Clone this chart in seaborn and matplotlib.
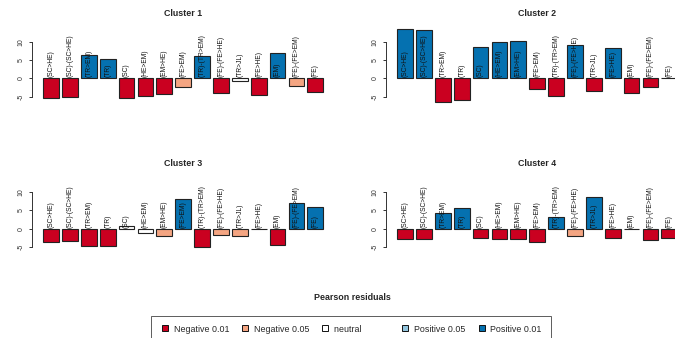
import matplotlib
matplotlib.use("Agg")
import matplotlib.pyplot as plt
from matplotlib.lines import Line2D
import seaborn as sns
import pandas as pd

labels = ["(SC>HE)", "(SC)-(SC>HE)", "(TR>EM)", "(TR)", "(SC)", "(HE>EM)", "(EM>HE)",
          "(FE>EM)", "(TR)-(TR>EM)", "(FE)-(FE>HE)", "(TR>JL)", "(FE>HE)", "(EM)",
          "(FE)-(FE>EM)", "(FE)"]

cluster1 = [-5.3, -5.1, 6.4, 5.2, -5.4, -4.7, -4.3, -2.3, 6.1, -4.1, -0.7, -4.5, 7.0, -2.1, -3.6]
cluster2 = [13.5, 13.1, -6.4, -5.8, 8.5, 9.9, 10.1, -3.0, -4.9, 9.0, -3.5, 8.2, -4.1, -2.5, 0.2]
cluster3 = [-3.7, -3.4, -4.8, -4.8, 0.7, -1.1, -1.9, 8.1, -4.9, -1.6, -2.0, -0.2, -4.4, 6.9, 5.8]
cluster4 = [-2.9, -2.9, 4.2, 5.5, -2.6, -2.9, -2.7, -3.7, 3.1, -2.1, 8.6, -2.5, -0.2, -3.1, -2.4]

class1 = ["N1", "N1", "P1", "P1", "N1", "N1", "N1", "N5", "P1", "N1", "NE", "N1", "P1", "N5", "N1"]
class2 = ["P1", "P1", "N1", "N1", "P1", "P1", "P1", "N1", "N1", "P1", "N1", "P1", "N1", "N1", "NE"]
class3 = ["N1", "N1", "N1", "N1", "NE", "NE", "N5", "P1", "N1", "N5", "N5", "NE", "N1", "P1", "P1"]
class4 = ["N1", "N1", "P1", "P1", "N1", "N1", "N1", "N1", "P1", "N5", "P1", "N1", "NE", "N1", "N1"]

titles = ["Cluster 1", "Cluster 2", "Cluster 3", "Cluster 4"]
class_keys = ["N1", "N5", "NE", "P5", "P1"]
legend_labels = ["Negative 0.01", "Negative 0.05", "neutral", "Positive 0.05", "Positive 0.01"]
class_colors = ["#CA0020", "#F4A582", "#FFFFFF", "#92C5DE", "#0571B0"]

sns.set_style("white")
plt.rcParams["font.family"] = ["Liberation Sans", "DejaVu Sans"]

W, H = 675, 338
fig = plt.figure(figsize=(W / 100, H / 100), dpi=100)

palette = dict(zip(class_keys, class_colors))
values_all = [cluster1, cluster2, cluster3, cluster4]
classes_all = [class1, class2, class3, class4]

# axes rectangles in pixels: left, top, width, height
ax_w = 302.4
rects = [(32, 27, ax_w, 77), (386, 27, ax_w, 77), (32, 177, ax_w, 77.6), (386, 177, ax_w, 77.6)]

for k in range(4):
    l, t, w, h = rects[k]
    ax = fig.add_axes([l / W, 1 - (t + h) / H, w / W, h / H])
    df = pd.DataFrame({"label": labels, "value": values_all[k], "cls": classes_all[k]})
    sns.barplot(data=df, x="label", y="value", hue="cls", order=labels,
                hue_order=class_keys, palette=palette, dodge=False, width=0.833,
                saturation=1, edgecolor="#222222", linewidth=0.8, legend=False, ax=ax)
    for i, lab in enumerate(labels):
        ax.text(i, 0.25, lab, rotation=90, rotation_mode="anchor", ha="left", va="center",
                fontsize=4.8, color="#111111", clip_on=False)
    ax.set_xlim(-1.01, 15.01)
    ax.set_ylim(-7, 14)
    ax.set_xlabel("")
    ax.set_ylabel("")
    ax.set_xticks([])
    ax.set_yticks([-5, 0, 5, 10])
    ax.set_yticklabels(["-5", "0", "5", "10"], rotation=90, va="center")
    ax.tick_params(axis="y", length=2.4, width=0.7, pad=3, labelsize=5.0, left=True,
                   colors="#333333", labelcolor="#333333")
    for s in ["top", "right", "bottom"]:
        ax.spines[s].set_visible(False)
    ax.spines["left"].set_bounds(-5, 10)
    ax.spines["left"].set_linewidth(0.7)
    ax.spines["left"].set_color("#333333")
    ax.patch.set_alpha(0)
    ax.set_title(titles[k], fontsize=6.4, fontweight="bold", pad=8)

fig.text(352 / W, 1 - 298 / H, "Pearson residuals", ha="center", va="center",
         fontsize=6.4, fontweight="bold")

handles = [Line2D([], [], marker="s", linestyle="none", markersize=3.8,
                  markerfacecolor=c, markeredgecolor="#111111", markeredgewidth=0.7)
           for c in class_colors]
leg_labels = list(legend_labels)
leg_labels[2] = "neutral           "
leg = fig.legend(handles, leg_labels, loc="center", ncol=5,
                 bbox_to_anchor=(351 / W, 1 - 329 / H), fontsize=6.4, frameon=True,
                 fancybox=False, edgecolor="#333333", borderpad=1.0, handletextpad=0.5,
                 columnspacing=1.3, handlelength=1.0, borderaxespad=0)
leg.get_frame().set_linewidth(0.7)

fig.savefig("out.png", dpi=100)
